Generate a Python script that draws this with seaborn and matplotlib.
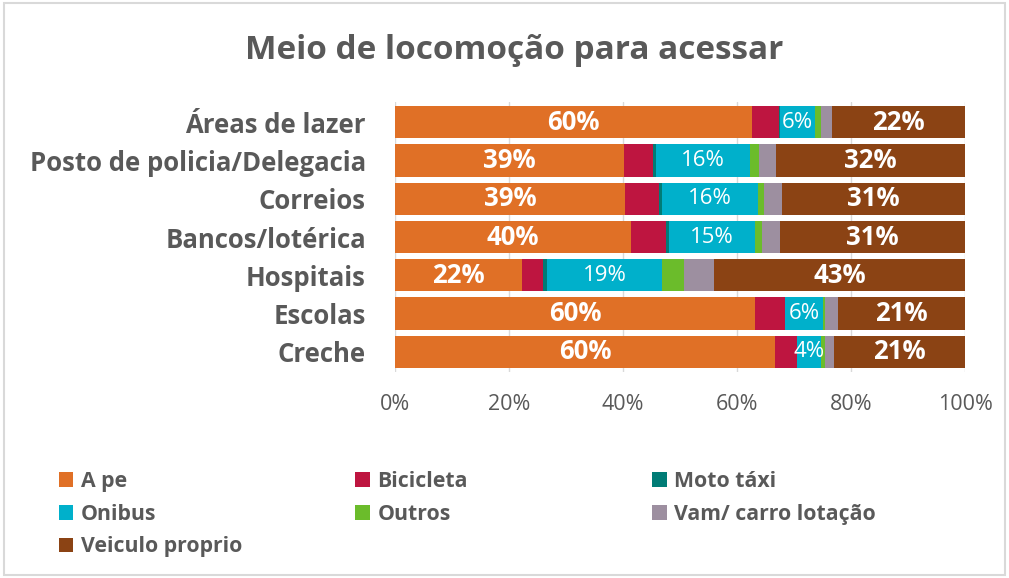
import matplotlib
matplotlib.use("Agg")
import matplotlib.pyplot as plt
from matplotlib.patches import Patch, Rectangle
import seaborn as sns
import numpy as np
import pandas as pd

# categories, top to bottom
locais = ["Áreas de lazer", "Posto de policia/Delegacia", "Correios",
          "Bancos/lotérica", "Hospitais", "Escolas", "Creche"]

# segment shares (%)
a_pe = [62.6, 40.1, 40.4, 41.4, 22.3, 63.2, 66.7]
bicicleta = [4.7, 5.2, 6.0, 6.1, 3.7, 5.2, 3.8]
moto_taxi = [0.2, 0.5, 0.5, 0.5, 0.7, 0.1, 0.1]
onibus = [6.1, 16.5, 16.7, 15.2, 20.1, 6.5, 4.1]
outros = [1.1, 1.5, 1.1, 1.1, 3.9, 0.5, 0.8]
vam = [2.0, 3.0, 3.2, 3.3, 5.2, 2.3, 1.6]
veiculo = [23.3, 33.2, 32.1, 32.4, 44.1, 22.2, 22.9]

# data labels as printed on the chart
lbl_a_pe = ["60%", "39%", "39%", "40%", "22%", "60%", "60%"]
lbl_onibus = ["6%", "16%", "16%", "15%", "19%", "6%", "4%"]
lbl_veiculo = ["22%", "32%", "31%", "31%", "43%", "21%", "21%"]

series = ["A pe", "Bicicleta", "Moto táxi", "Onibus", "Outros",
          "Vam/ carro lotação", "Veiculo proprio"]
cores = ["#E07026", "#BE1540", "#007C76", "#00B0CB", "#6BBC2B",
         "#9D8FA0", "#8B4314"]

df = pd.DataFrame({"local": locais, "A pe": a_pe, "Bicicleta": bicicleta,
                   "Moto táxi": moto_taxi, "Onibus": onibus, "Outros": outros,
                   "Vam/ carro lotação": vam, "Veiculo proprio": veiculo})
cum = df[series].cumsum(axis=1)

sns.set_style("white")
plt.rcParams["font.family"] = ["Open Sans", "DejaVu Sans"]
cinza = "#595959"

fig = plt.figure(figsize=(10.09, 5.78), dpi=100)
ax = fig.add_axes([0.3915, 0.357, 0.5649, 0.4665])

# stacked bars: draw cumulative totals from the longest down
for s, c in reversed(list(zip(series, cores))):
    sns.barplot(x=cum[s], y=df["local"], color=c, orient="h", width=0.84,
                saturation=1, linewidth=0, ax=ax)

def rotular(col, labels, bold):
    starts = cum[col] - df[col]
    for i, (x0, w, t) in enumerate(zip(starts, df[col], labels)):
        ax.text(x0 + w / 2, i, t, ha="center", va="center", color="white",
                fontsize=18.5 if bold else 16,
                fontweight="bold" if bold else "normal")

rotular("A pe", lbl_a_pe, True)
rotular("Onibus", lbl_onibus, False)
rotular("Veiculo proprio", lbl_veiculo, True)

ax.set_xlim(0, 100)
ax.set_ylim(6.52, -0.53)
ax.set_xticks(np.arange(0, 101, 20))
ax.set_xticklabels([f"{v}%" for v in range(0, 101, 20)])
ax.grid(axis="x", color="#d9d9d9", linewidth=1)
ax.set_axisbelow(True)
for sp in ax.spines.values():
    sp.set_visible(False)
ax.set_xlabel("")
ax.set_ylabel("")
ax.tick_params(axis="x", labelsize=15.5, colors=cinza, length=0, pad=16)
ax.tick_params(axis="y", labelsize=18.5, colors=cinza, length=0, pad=21)
for t in ax.get_yticklabels():
    t.set_fontweight("bold")

fig.text(0.51, 0.913, "Meio de locomoção para acessar", ha="center",
         va="center", fontsize=24, fontweight="bold", color=cinza)

# legend laid out in three columns, filled row by row
handles = [Patch(facecolor=c, edgecolor="none", label=s)
           for s, c in zip(series, cores)]
colunas = [[0, 3, 6], [1, 4], [2, 5]]
xs = [0.058, 0.352, 0.646]
for idx, x in zip(colunas, xs):
    leg = fig.legend(handles=[handles[i] for i in idx], loc="upper left",
                     bbox_to_anchor=(x, 0.185), frameon=False,
                     handlelength=0.7, handleheight=0.7, handletextpad=0.35,
                     labelspacing=0.55, borderaxespad=0, borderpad=0,
                     prop={"weight": "bold", "size": 15.3})
    for t in leg.get_texts():
        t.set_color(cinza)

fig.add_artist(Rectangle((0.004, 0.005), 0.992, 0.99, transform=fig.transFigure,
                         fill=False, edgecolor="#d9d9d9", linewidth=1.5))

fig.savefig("out.png", dpi=100)
